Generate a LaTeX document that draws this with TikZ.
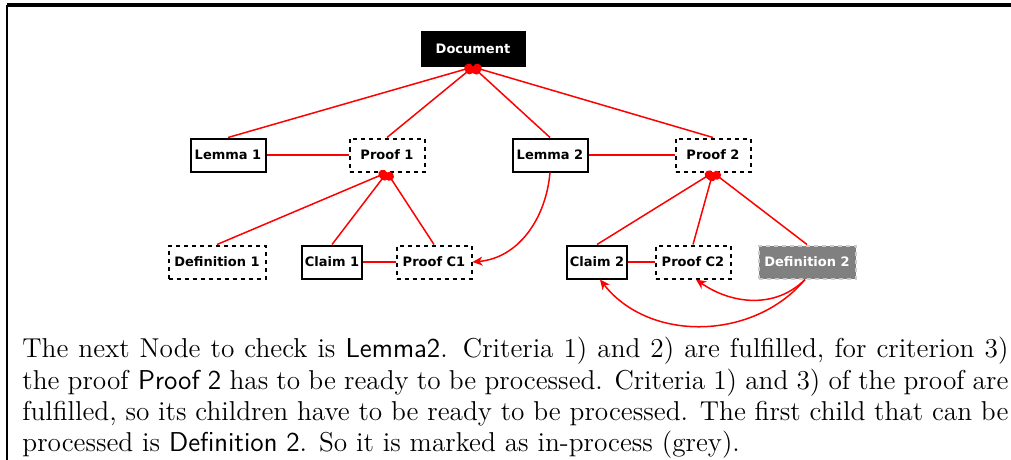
\documentclass[tikz,border=0pt]{standalone}
\usepackage{fontspec}
\newfontfamily\nodefont{DejaVu Sans}
\usetikzlibrary{arrows.meta}
\begin{document}
\begin{tikzpicture}[x=0.5pt,y=0.5pt,
  item/.style={draw=black, line width=1pt, minimum width=37.5pt, minimum height=16.5pt,
    inner sep=0pt, font=\nodefont\bfseries\fontsize{6.5}{7.8}\selectfont},
  lemma/.style={item},
  proofbox/.style={item, dashed, dash pattern=on 2pt off 2pt},
  doc/.style={item, fill=black, text=white, minimum width=51.5pt, minimum height=17pt},
  active/.style={item, fill=gray, draw=gray!40, text=white, dash pattern=on 2pt off 2pt, minimum width=48.5pt},
  tree/.style={red, line width=0.75pt, {Circle[length=4.5pt]}-},
  link/.style={red, line width=0.75pt},
  ref/.style={red, line width=0.75pt, -{Stealth[length=5pt,width=4.5pt,inset=1.5pt]}}
]
\useasboundingbox (0,0) rectangle (1011,-460);

% frame edges
\draw[line width=1.6pt] (7,-5) -- (1011,-5);
\draw[line width=1pt] (7,-5) -- (7,-460);

% level 0
\node[doc] (doc) at (473,-49) {Document};

% level 1
\node[lemma]    (l1) at (228,-155) {Lemma 1};
\node[proofbox] (p1) at (387,-155) {Proof 1};
\node[lemma]    (l2) at (550,-155) {Lemma 2};
\node[proofbox] (p2) at (713,-155) {Proof 2};

% level 2
\node[proofbox, minimum width=48.5pt] (d1) at (217,-262) {Definition 1};
\node[lemma, minimum width=30pt]      (c1) at (332,-262) {Claim 1};
\node[proofbox]                       (pc1) at (434,-262) {Proof C1};
\node[lemma, minimum width=30pt]      (c2) at (597,-262) {Claim 2};
\node[proofbox]                       (pc2) at (693,-262) {Proof C2};
\node[active]                         (d2) at (807,-262) {Definition 2};

% tree edges
\foreach \t in {l1,p1,l2,p2} \draw[tree] (doc.south) -- (\t.north);
\foreach \t in {d1,c1,pc1} \draw[tree] (p1.south) -- (\t.north);
\foreach \t in {c2,pc2,d2} \draw[tree] (p2.south) -- (\t.north);

% statement/proof links
\draw[link] (l1) -- (p1);
\draw[link] (l2) -- (p2);
\draw[link] (c1) -- (pc1);
\draw[link] (c2) -- (pc2);

% references
\draw[ref] (l2.south) to[out=-95, in=5] (pc1.east);
\draw[ref] ([xshift=-1pt]d2.south) to[out=-135, in=-35] ([xshift=1.5pt]pc2.south);
\draw[ref] ([xshift=-1pt]d2.south) to[out=-130, in=-52] ([xshift=1.5pt]c2.south);

% explanation
\node[anchor=north west, inner sep=0pt, align=left,
      font=\fontsize{13.65}{15.6}\selectfont] (txt) at (22,-337) {%
\makebox[493pt][s]{The next Node to check is \textsf{Lemma2}. Criteria 1) and 2) are fulfilled, for criterion 3)}\\
\makebox[493pt][s]{the proof \textsf{Proof 2} has to be ready to be processed. Criteria 1) and 3) of the proof are}\\
\makebox[493pt][s]{fulfilled, so its children have to be ready to be processed. The first child that can be}\\
processed is \textsf{Definition 2}. So it is marked as in-process (grey).};
\end{tikzpicture}
\end{document}
